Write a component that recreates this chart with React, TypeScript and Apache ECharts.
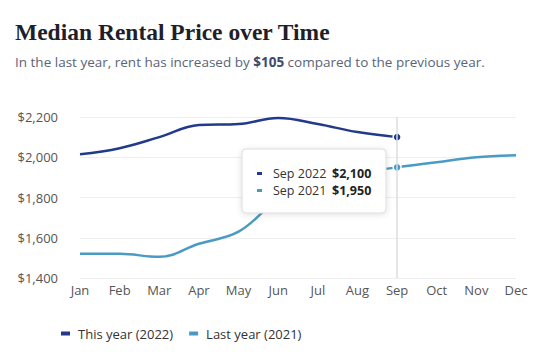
import React, { useEffect, useRef } from "react";
import * as echarts from "echarts";

const months = ["Jan", "Feb", "Mar", "Apr", "May", "Jun", "Jul", "Aug", "Sep", "Oct", "Nov", "Dec"];
const thisYear = [2015, 2045, 2100, 2160, 2165, 2195, 2165, 2125, 2100];
const lastYear = [1520, 1520, 1505, 1570, 1630, 1790, 1880, 1920, 1950, 1975, 2000, 2010];
const yTicks = [1400, 1600, 1800, 2000, 2200];
const thisLabel = "This year (2022)";
const lastLabel = "Last year (2021)";
const increase = 105;
const focusIndex = 8;

const DARK = "#23398c";
const LIGHT = "#4a9bc4";
const SANS = "'Open Sans', 'Noto Sans', sans-serif";

const fmt = (v: number) => "$" + v.toLocaleString("en-US");

export default function App() {
  const ref = useRef<HTMLDivElement>(null);
  useEffect(() => {
    if (!ref.current) return;
    const chart = echarts.init(ref.current, undefined, { renderer: "svg" });
    const mkData = (arr: number[], color: string) =>
      arr.map((v, i) =>
        i === focusIndex
          ? { value: v, symbol: "circle", symbolSize: 8, itemStyle: { color, borderColor: "#fff", borderWidth: 1.5 } }
          : { value: v }
      );
    const txt = (x: number, y: number, text: string, bold: boolean) => ({
      type: "text",
      x,
      y,
      z: 101,
      style: {
        text,
        fill: bold ? "#222" : "#333",
        fontFamily: SANS,
        fontSize: 12.5,
        fontWeight: bold ? "bold" : "normal",
        verticalAlign: "middle",
      },
    });
    chart.setOption({
      animation: false,
      title: {
        text: "Median Rental Price over Time",
        left: 10,
        top: 15,
        itemGap: 11,
        textStyle: { fontFamily: "'Liberation Serif', 'DejaVu Serif', serif", fontWeight: "bold", fontSize: 23.5, color: "#1f1f2b" },
        subtext: `In the last year, rent has increased by {b|${fmt(increase)}} compared to the previous year.`,
        subtextStyle: {
          fontFamily: SANS,
          fontSize: 13.5,
          color: "#5a6478",
          rich: { b: { fontFamily: SANS, fontSize: 13.5, fontWeight: "bold", color: "#3c4a72" } },
        },
      },
      grid: { left: 80, right: 22, top: 117, bottom: 83 },
      xAxis: {
        type: "category",
        data: months,
        boundaryGap: false,
        axisLine: { show: false },
        axisTick: { show: false },
        splitLine: { show: false },
        axisLabel: { color: "#555", fontFamily: SANS, fontSize: 13, margin: 5 },
      },
      yAxis: {
        type: "value",
        min: yTicks[0],
        max: yTicks[yTicks.length - 1],
        interval: 200,
        axisLine: { show: false },
        axisTick: { show: false },
        splitLine: { lineStyle: { color: "#eeeeee", width: 1 } },
        axisLabel: { color: "#555", fontFamily: SANS, fontSize: 13, margin: 22, formatter: (v: number) => fmt(v) },
      },
      legend: {
        left: 56,
        top: 322,
        itemWidth: 9,
        itemHeight: 4,
        itemGap: 16,
        icon: "rect",
        textStyle: { color: "#333", fontFamily: SANS, fontSize: 13, padding: [0, 0, 0, 3] },
        data: [thisLabel, lastLabel],
      },
      series: [
        {
          name: lastLabel,
          type: "line",
          smooth: 0.4,
          symbol: "none",
          showSymbol: true,
          lineStyle: { color: LIGHT, width: 2.5 },
          itemStyle: { color: LIGHT },
          data: mkData(lastYear, LIGHT),
          markLine: {
            silent: true,
            symbol: "none",
            label: { show: false },
            lineStyle: { color: "#dddddd", width: 1.5, type: "solid" },
            data: [{ xAxis: months[focusIndex] }],
          },
          z: 2,
        },
        {
          name: thisLabel,
          type: "line",
          smooth: 0.4,
          symbol: "none",
          showSymbol: true,
          lineStyle: { color: DARK, width: 2.5 },
          itemStyle: { color: DARK },
          data: mkData(thisYear, DARK),
          z: 3,
        },
      ],
      graphic: [
        {
          type: "rect",
          z: 100,
          shape: { x: 242, y: 149, width: 144, height: 64, r: 4 },
          style: { fill: "#fff", stroke: "#dcdcdc", lineWidth: 1, shadowBlur: 6, shadowColor: "rgba(0,0,0,0.12)", shadowOffsetY: 1 },
        },
        { type: "rect", z: 101, shape: { x: 257, y: 172, width: 5, height: 3 }, style: { fill: DARK } },
        { type: "rect", z: 101, shape: { x: 257, y: 189, width: 5, height: 3 }, style: { fill: LIGHT } },
        txt(273, 173.5, `${months[focusIndex]} 2022`, false),
        txt(273, 190.5, `${months[focusIndex]} 2021`, false),
        txt(332, 173.5, fmt(thisYear[focusIndex]), true),
        txt(332, 190.5, fmt(lastYear[focusIndex]), true),
      ],
    });
    return () => chart.dispose();
  }, []);
  return <div ref={ref} style={{ width: 538, height: 361, position: "absolute", left: 0, top: 0 }} />;
}
